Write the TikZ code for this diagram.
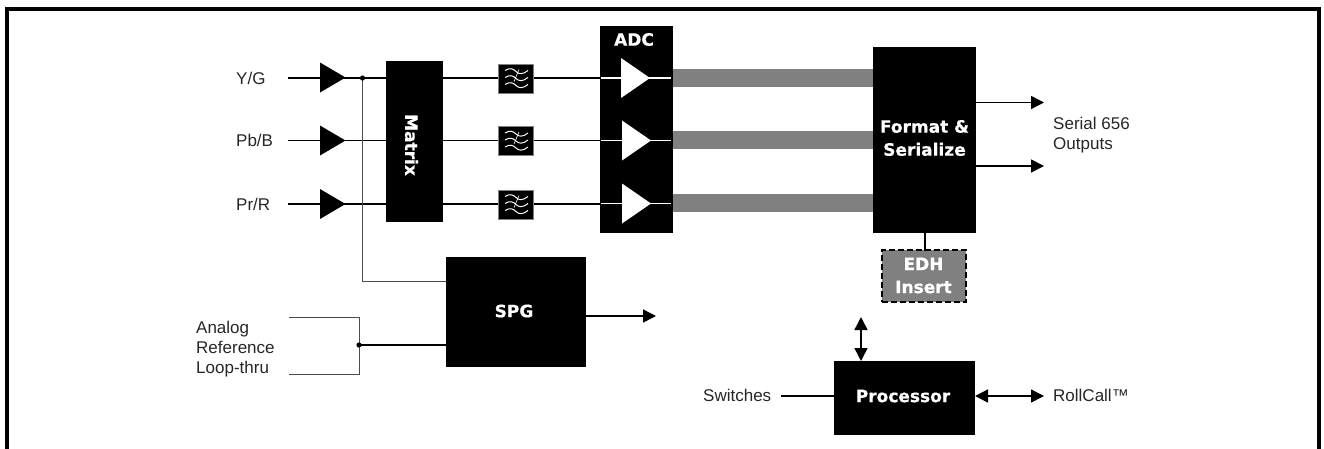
\documentclass[tikz,border=0pt]{standalone}
\usepackage{fontspec}
\setmainfont{Liberation Sans}
\newfontfamily\heavy{DejaVu Sans Bold}[FakeBold=0.6]
\usetikzlibrary{arrows.meta}
\tikzset{
 x=1pt,y=-1pt,
 blk/.style={fill=black,draw=none,inner sep=0,outer sep=0},
 title/.style={text=white,font=\heavy\fontsize{17}{23}\selectfont,align=center,inner sep=0},
 lab/.style={font=\fontsize{17}{20}\selectfont,align=left,inner sep=0,text=black!85},
 wire/.style={line width=1.5pt},
 thin wire/.style={line width=1pt},
 grey wire/.style={line width=1pt,draw=black!70},
 arr/.style={line width=1.5pt,-{Triangle[length=13pt,width=13pt]}},
 barr/.style={line width=1.5pt,{Triangle[length=13pt,width=13pt]}-{Triangle[length=13pt,width=13pt]}},
 bar/.style={fill=black!50,draw=none},
 wave/.style={white,line width=1pt},
}
\newcommand{\boxat}[6][]{\node[blk,minimum width=#4-#3,minimum height=#6-#5,#1] (#2) at ({(#3+#4)/2},{(#5+#6)/2}) {};}
\begin{document}
\begin{tikzpicture}
\useasboundingbox (0,0) rectangle (1324,448);
\draw[line width=4pt,line join=miter] (7,449) -- (7,9) -- (1319,9) -- (1319,449);
% coordinates
\coordinate (iy) at (288,78); \coordinate (ib) at (288,140.5); \coordinate (ir) at (288,204);
\coordinate (j1) at (362.5,78);
\coordinate (c1) at (362.5,281);
\coordinate (r1) at (289,317); \coordinate (r2) at (289,374);
\coordinate (rc1) at (359,317); \coordinate (rc2) at (359,374);
\coordinate (j2) at (359,345);
\coordinate (o1) at (1044,102.5); \coordinate (o2) at (1044,166);
\coordinate (s1) at (976,102.5); \coordinate (s2) at (976,166);
\coordinate (spo) at (656,316); \coordinate (sps) at (586,316);
\coordinate (rcl) at (1044,396); \coordinate (sw) at (781,396);
% labels
\node[lab,anchor=west] (ly) at (236,78) {Y/G};
\node[lab,anchor=west] (lb) at (236,140.5) {Pb/B};
\node[lab,anchor=west] (lr) at (236,204.5) {Pr/R};
\node[lab,anchor=west] (la) at (196,349.5) {Analog\\Reference\\Loop-thru};
\node[lab,anchor=west] (ls) at (1053,135) {Serial 656\\Outputs};
\node[lab,anchor=west] (lsw) at (703,395) {Switches};
\node[lab,anchor=west] (lrc) at (1053,395) {RollCall™};
% wires
\draw[wire] (iy) -- (600,78);
\draw[thin wire] (ib) -- (600,140.5);
\draw[wire] (ir) -- (600,204);
\draw[grey wire] (j1) -- (c1) -- (446,281);
\draw[grey wire] (r1) -- (rc1) -- (rc2) -- (r2);
\draw[wire] (j2) -- (446,345);
\fill (j1) circle (2.6pt);
\fill (j2) circle (2.6pt);
% amps
\foreach \n/\y in {a/77.5,b/140.5,c/204}{
 \fill (320,\y-15) -- (345.5,\y) -- (320,\y+15) -- cycle;
}
% matrix
\boxat{matrix}{386}{443}{61}{222}
\node[title,rotate=-90] (mt) at (411.5,145) {Matrix};
% filters
\foreach \n/\y in {f1/78.5,f2/141,f3/204.5}{
 \node[blk,draw=black!50,line width=.6pt,minimum width=35.5pt,minimum height=29pt] (\n) at (516,\y) {};
 \foreach \d in {-7,0,7}{
  \draw[wave] (505,\y+\d-1) .. controls (510,\y+\d-4) and (513,\y+\d-3) .. (516,\y+\d) .. controls (519,\y+\d+3) and (523,\y+\d+3) .. (528,\y+\d-1);
 }
 \draw[wave,line width=.6pt] (519,\y-9) -- (514,\y+3);
}
% ADC
\boxat{adc}{600}{673}{26}{233}
\node[title] (adct) at (634,39.5) {ADC};
\foreach \n/\y/\x in {a/78/621,b/140.5/622,c/203.5/622}{
 \draw[white,line width=1.4pt] (601,\y) -- (671,\y);
 \fill[white] (\x,\y-20) -- (\x+29,\y) -- (\x,\y+20) -- cycle;
}
% bars
\foreach \y in {78,140,203}{
 \fill[bar] (673,\y-9) rectangle (873,\y+9);
}
% format
\boxat{fmt}{873}{976}{47}{233}
\node[title] (fmtt) at (924.5,138) {Format \&\\Serialize};
\draw[arr] (s1) -- (o1);
\draw[arr] (s2) -- (o2);
% EDH
\node[fill=black!50,draw=black,line width=2pt,dash pattern=on 6pt off 3pt,minimum width=84pt,minimum height=52pt,inner sep=0,outer sep=0] (edh) at (923.5,275.5) {};
\node[title] (edht) at (923.5,275.5) {EDH\\Insert};
\draw[wire] (925,233) -- (925,251);
% SPG
\boxat{spg}{446}{586}{257}{367}
\node[title] (spgt) at (514,311) {SPG};
\draw[arr] (sps) -- (spo);
% Processor
\boxat{proc}{834}{975}{361}{435}
\node[title] (proct) at (903,396) {Processor};
\coordinate (pa) at (861,317);
\draw[barr] (pa) -- (861,361);
\draw[wire] (sw) -- (834,396);
\draw[barr] (975,396) -- (rcl);
\end{tikzpicture}
\end{document}
